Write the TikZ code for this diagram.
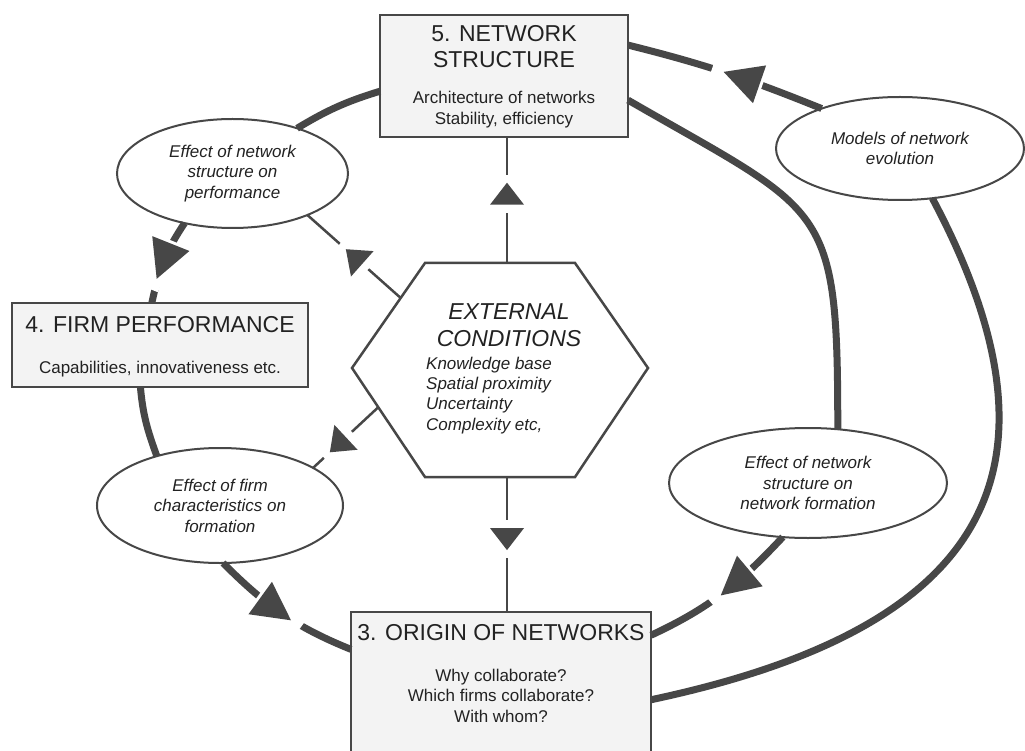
\documentclass[tikz,border=0pt]{standalone}
\usepackage{fontspec}
\setmainfont{Liberation Sans}
\usepackage{tikz}
\usetikzlibrary{shapes.geometric,positioning,decorations.markings,calc}

\definecolor{linegray}{HTML}{474747}
\definecolor{panelgray}{HTML}{F3F3F3}
\definecolor{inkgray}{HTML}{222222}

\begin{document}
\begin{tikzpicture}[x=1pt, y=1pt,
  panel/.style={draw=linegray, line width=2.5pt, fill=panelgray, inner sep=0pt, outer sep=0pt},
  bubble/.style={ellipse, draw=linegray, line width=2pt, fill=white, inner sep=0pt, outer sep=0pt,
    align=center, text=inkgray, font=\fontsize{17}{20.5}\selectfont\itshape},
  boxtitle/.style={inner sep=0pt, align=center, text=inkgray, font=\fontsize{23}{26}\selectfont},
  boxsub/.style={inner sep=0pt, align=center, text=inkgray, font=\fontsize{17}{20.5}\selectfont},
  ring/.style={draw=linegray, line width=7pt},
  hexlink/.style={draw=linegray, line width=2.5pt},
  bigtip/.style={decoration={markings, mark=at position #1 with {
      \fill[white] (-22,-6) rectangle (31,6);
      \fill[linegray] (19,0) -- (-19,20) -- (-19,-20) -- cycle;}},
    postaction={decorate}},
  smalltip/.style={decoration={markings, mark=at position #1 with {
      \fill[white] (-19,-3) rectangle (19,3);
      \fill[linegray] (11,0) -- (-11,17) -- (-11,-17) -- cycle;}},
    postaction={decorate}}
]
\useasboundingbox (0,0) rectangle (1025,-751);
\fill[white] (0,0) rectangle (1025,-751);

\node[panel, minimum width=248pt, minimum height=122pt] (net) at (504,-76) {};
\node[boxtitle, below=10.5pt of net.north] (nettitle) {5. NETWORK\\STRUCTURE};
\node[boxsub, below=23pt of nettitle] (netsub) {Architecture of networks\\Stability, efficiency};

\node[panel, minimum width=296pt, minimum height=84pt] (firm) at (160,-345) {};
\node[boxtitle, below=13.5pt of firm.north] (firmtitle) {4. FIRM PERFORMANCE};
\node[boxsub, below=27.5pt of firmtitle] (firmsub) {Capabilities, innovativeness etc.};

\node[panel, minimum width=300pt, minimum height=144pt] (origin) at (501,-684) {};
\node[boxtitle, below=12.5pt of origin.north] (origintitle) {3. ORIGIN OF NETWORKS};
\node[boxsub, below=27.5pt of origintitle] (originsub) {Why collaborate?\\Which firms collaborate?\\With whom?};

\node[bubble, minimum width=231pt, minimum height=109pt] (perf) at (232.5,-173.5)
  {Effect of network\\structure on\\performance};
\node[bubble, minimum width=248pt, minimum height=103pt] (models) at (900,-148.5)
  {Models of network\\evolution};
\node[bubble, minimum width=278pt, minimum height=110pt] (netform) at (808,-483)
  {Effect of network\\structure on\\network formation};
\node[bubble, minimum width=246pt, minimum height=115pt] (firmform) at (220,-505.5)
  {Effect of firm\\characteristics on\\formation};

\coordinate (h1) at (425,-263);
\coordinate (h2) at (575,-263);
\coordinate (h3) at (648,-368);
\coordinate (h4) at (575,-477);
\coordinate (h5) at (425,-477);
\coordinate (h6) at (352,-368);
\draw[hexlink, fill=white] (h1) -- (h2) -- (h3) -- (h4) -- (h5) -- (h6) -- cycle;
\coordinate (hexN) at (507,-263);
\coordinate (hexS) at (507,-477);
\coordinate (hexNW) at ($(h6)!0.667!(h1)$);
\coordinate (hexSW) at ($(h6)!0.36!(h5)$);
\node[boxtitle, font=\fontsize{23}{27}\selectfont\itshape, anchor=north] (exthead) at (509,-303.5)
  {EXTERNAL\\CONDITIONS};
\node[boxsub, align=left, font=\fontsize{17}{20.3}\selectfont\itshape, anchor=north west] (extlist) at (426,-356.6)
  {Knowledge base\\Spatial proximity\\Uncertainty\\Complexity etc,};

\draw[ring] (net.187) to[out=197, in=31] (perf.35);
\draw[ring, bigtip=0.5] (perf.226) to[out=236, in=78] (firm.101);
\draw[ring] (firm.245) to[out=-85, in=110] (firmform.142);
\draw[ring, bigtip=0.45] (firmform.-87) to[out=-45, in=158] (origin.167);
\draw[ring, bigtip=0.4] (netform.245) to[out=227, in=25] (origin.18);
\draw[ring] (netform.61) to[out=90, in=-30, looseness=1.5] (net.-11);
\draw[ring] (origin.-6) to[out=12, in=-62, looseness=1.45] (models.-57);
\draw[ring, bigtip=0.42] (models.153) to[out=158, in=-14] (net.14);

\draw[hexlink, smalltip=0.55] (hexN) -- (hexN |- net.south);
\draw[hexlink, smalltip=0.46] (hexS) -- (hexS |- origin.north);
\draw[hexlink, smalltip=0.5] (hexNW) -- (perf.-29);
\draw[hexlink, smalltip=0.62] (hexSW) -- (firmform.22);
\end{tikzpicture}
\end{document}
